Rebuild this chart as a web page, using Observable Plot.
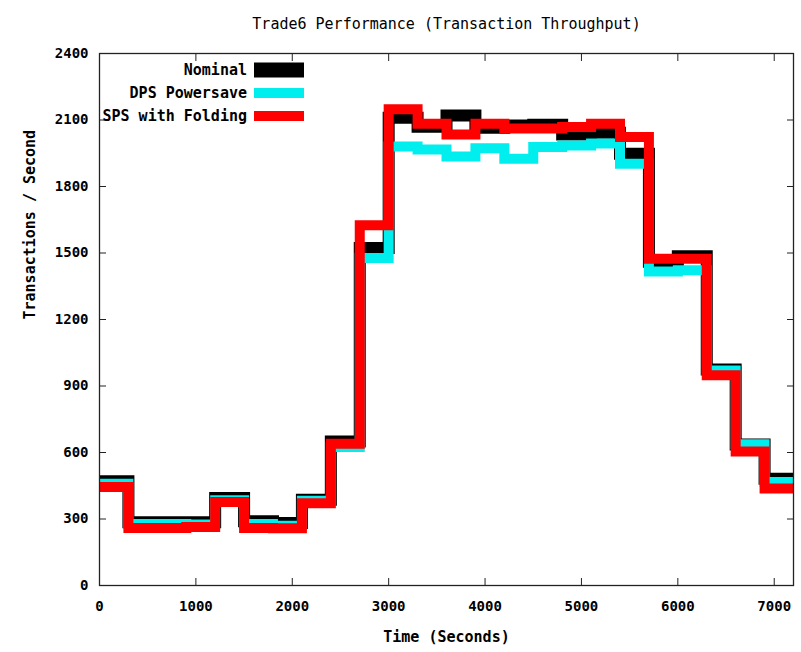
<!DOCTYPE html>
<html>
<head>
<meta charset="utf-8">
<script src="https://cdn.jsdelivr.net/npm/d3@7"></script>
<script src="https://cdn.jsdelivr.net/npm/@observablehq/plot@0.6"></script>
<style>
  html, body { margin: 0; padding: 0; background: #fff; }
  #chart { position: relative; width: 801px; height: 652px; }
</style>
</head>
<body>
<div id="chart"></div>
<script>
// Interval start times (seconds); last entry is the end of the final step
const times = [0, 300, 600, 900, 1200, 1500, 1800, 2100, 2400, 2700, 3000, 3300,
               3600, 3900, 4200, 4500, 4800, 5100, 5400, 5700, 6000, 6300, 6600, 6900, 7200];
const nominal = [470, 285, 285, 285, 395, 290, 282, 387, 650, 1522, 2110, 2070,
                 2120, 2065, 2075, 2079, 2035, 2043, 1948, 1460, 1485, 975, 636, 482];
const dpsPowersave = [459, 278, 278, 275, 385, 278, 269, 382, 625, 1478, 1981, 1967,
                      1935, 1972, 1925, 1978, 1985, 1994, 1903, 1417, 1422, 970, 637, 467];
const spsFolding = [444, 259, 259, 264, 377, 259, 258, 371, 640, 1625, 2149, 2083,
                    2035, 2083, 2062, 2062, 2068, 2083, 2023, 1474, 1474, 948, 605, 438];

const seriesNames = ["Nominal", "DPS Powersave", "SPS with Folding"];
const seriesColors = ["#000000", "#00eeee", "#ff0000"];
const seriesWidths = [12, 10, 10];
const xTicks = [0, 1000, 2000, 3000, 4000, 5000, 6000, 7000];
const yTicks = [0, 300, 600, 900, 1200, 1500, 1800, 2100, 2400];

function toRows(values, name) {
  const rows = values.map((v, i) => ({t: times[i], v, name}));
  rows.push({t: times[values.length], v: values[values.length - 1], name});
  return rows;
}
const allSeries = [nominal, dpsPowersave, spsFolding].map((vals, i) => toRows(vals, seriesNames[i]));

const font = "'DejaVu Sans Mono', monospace";

const chart = Plot.plot({
  width: 801,
  height: 652,
  marginLeft: 99,
  marginRight: 8,
  marginTop: 53,
  marginBottom: 67,
  style: {fontFamily: font, fontSize: "14px", fontWeight: "bold", color: "#000", background: "#fff"},
  x: {domain: [0, 7200], label: null},
  y: {domain: [0, 2400], label: null},
  marks: [
    ...allSeries.map((rows, i) => Plot.line(rows, {
      x: "t", y: "v", curve: "step-after",
      stroke: seriesColors[i], strokeWidth: seriesWidths[i],
      strokeLinejoin: "miter", strokeLinecap: "butt", strokeMiterlimit: 10
    })),
    Plot.frame({stroke: "#222", strokeWidth: 1.3}),
    // inward ticks on all four sides
    Plot.axisX(xTicks, {anchor: "bottom", tickSize: -7, fill: "none", stroke: "#222"}),
    Plot.axisX(xTicks, {anchor: "top", tickSize: -7, fill: "none", stroke: "#222"}),
    Plot.axisY(yTicks, {anchor: "left", tickSize: -7, fill: "none", stroke: "#222"}),
    Plot.axisY(yTicks, {anchor: "right", tickSize: -7, fill: "none", stroke: "#222"}),
    // tick labels
    Plot.axisX(xTicks, {anchor: "bottom", tickSize: 0, tickPadding: 16, tickFormat: d => String(d), label: null}),
    Plot.axisY(yTicks, {anchor: "left", tickSize: 0, tickPadding: 11, tickFormat: d => String(d), label: null}),
    // titles
    Plot.text(["Trade6 Performance (Transaction Throughput)"], {
      text: d => d, frameAnchor: "top", dy: -35, fontSize: 15, fontWeight: "normal"
    }),
    Plot.text(["Time (Seconds)"], {text: d => d, frameAnchor: "bottom", dy: 56, fontSize: 15}),
    Plot.text(["Transactions / Second"], {
      text: d => d, frameAnchor: "left", dx: -69, rotate: -90, fontSize: 15
    })
  ]
});

document.getElementById("chart").appendChild(chart);

// Legend (inside the plot frame, top-left)
const svg = d3.select(chart);
const legend = svg.append("g").attr("font-family", font).attr("font-size", 15).attr("font-weight", "bold");
const legendRowY = [70, 93, 116];
const swatchH = [15, 10, 10];
seriesNames.forEach((name, i) => {
  legend.append("text")
    .attr("x", 247).attr("y", legendRowY[i]).attr("dy", "0.35em")
    .attr("text-anchor", "end").attr("fill", "#000").text(name);
  legend.append("rect")
    .attr("x", 254).attr("y", legendRowY[i] - swatchH[i] / 2)
    .attr("width", 50).attr("height", swatchH[i])
    .attr("fill", seriesColors[i]);
});
</script>
</body>
</html>
